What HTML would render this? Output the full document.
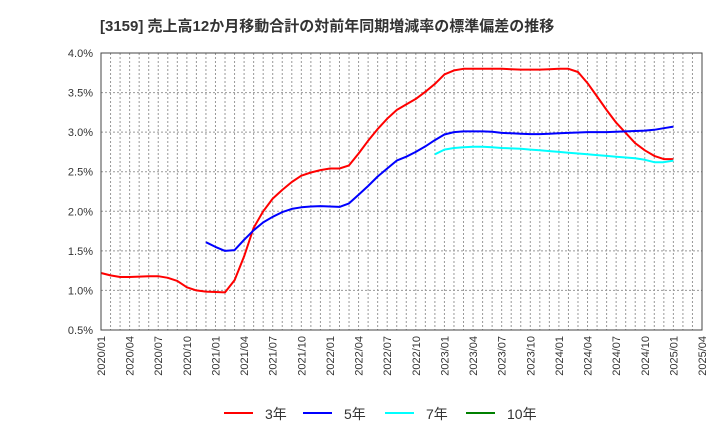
<!DOCTYPE html>
<html><head><meta charset="utf-8"><style>
body{margin:0;background:#fff;}
svg text{font-family:"Liberation Sans","Noto Sans CJK JP",sans-serif;fill:#333;}
</style></head><body>
<svg width="720" height="440" xmlns="http://www.w3.org/2000/svg">
<text x="100" y="31" font-size="15" font-weight="bold">[3159]  売上高12か月移動合計の対前年同期増減率の標準偏差の推移</text>
<g id="grid"></g>
<g id="lines"></g>
<rect x="101" y="53" width="601" height="277" fill="none" stroke="#444" stroke-width="1"/>
<g id="axes"></g>
<g id="legend"></g>
</svg>
<script>
const yTicks=[0.5,1.0,1.5,2.0,2.5,3.0,3.5,4.0];
const xTickLabels=["2020/01","2020/04","2020/07","2020/10","2021/01","2021/04","2021/07","2021/10","2022/01","2022/04","2022/07","2022/10","2023/01","2023/04","2023/07","2023/10","2024/01","2024/04","2024/07","2024/10","2025/01","2025/04"];
const s3Start=0;
const s3=[1.22,1.19,1.17,1.17,1.175,1.18,1.18,1.16,1.12,1.04,1.0,0.985,0.98,0.975,1.13,1.43,1.79,2.0,2.16,2.27,2.37,2.45,2.49,2.52,2.54,2.54,2.58,2.73,2.89,3.04,3.17,3.28,3.35,3.42,3.51,3.61,3.73,3.78,3.80,3.80,3.80,3.80,3.80,3.795,3.79,3.79,3.79,3.795,3.80,3.80,3.76,3.62,3.45,3.28,3.12,2.99,2.86,2.77,2.70,2.66,2.66];
const s5Start=11;
const s5=[1.61,1.55,1.50,1.51,1.64,1.76,1.86,1.93,1.99,2.03,2.05,2.06,2.065,2.06,2.055,2.10,2.21,2.32,2.44,2.54,2.64,2.69,2.75,2.82,2.90,2.97,3.0,3.01,3.01,3.01,3.005,2.99,2.985,2.98,2.975,2.975,2.98,2.985,2.99,2.995,3.0,3.0,3.0,3.005,3.01,3.015,3.02,3.03,3.05,3.07];
const s7Start=35;
const s7=[2.72,2.78,2.80,2.81,2.815,2.815,2.81,2.80,2.795,2.79,2.78,2.77,2.76,2.75,2.74,2.73,2.72,2.71,2.70,2.69,2.68,2.67,2.65,2.62,2.62,2.64];
const s10Start=0;
const s10=[];
const L=101,R=702,T=53,B=330,NM=63;
const X=i=>L+i*(R-L)/NM;
const Y=v=>B-(v-0.5)*(B-T)/3.5;
const NS="http://www.w3.org/2000/svg";
function mk(t,a,p){const e=document.createElementNS(NS,t);for(const k in a)e.setAttribute(k,a[k]);p.appendChild(e);return e;}
const grid=document.getElementById('grid'),axes=document.getElementById('axes'),lines=document.getElementById('lines'),leg=document.getElementById('legend');
for(let i=1;i<NM;i++){const l=mk('line',{x1:X(i),x2:X(i),y1:T,y2:B,stroke:'#999','stroke-dasharray':'2,2','stroke-width':1},grid);

}
yTicks.forEach(v=>{if(v>0.5&&v<4.0){const l=mk('line',{x1:L,x2:R,y1:Y(v),y2:Y(v),stroke:'#999','stroke-dasharray':'2,2','stroke-width':1},grid);

}
const t=mk('text',{x:93,y:Y(v)+4,'text-anchor':'end','font-size':11},axes);t.textContent=v.toFixed(1)+'%';

});
xTickLabels.forEach((s,k)=>{const x=X(k*3);const t=mk('text',{x:0,y:0,'text-anchor':'end','font-size':11,transform:`translate(${x+4},336) rotate(-90)`},axes);t.textContent=s;

});
function series(d,st,c,name){if(!d.length)return;const p=d.map((v,i)=>X(st+i).toFixed(1)+','+Y(v).toFixed(1)).join(' ');
const e=mk('polyline',{points:p,fill:'none',stroke:c,'stroke-width':2,'stroke-linejoin':'round'},lines);

}
series(s3,s3Start,'#ff0000','series-3y');
series(s5,s5Start,'#0000ff','series-5y');
series(s7,s7Start,'#00ffff','series-7y');
series(s10,s10Start,'#008000','series-10y');
[[224,'#ff0000','3年'],[303,'#0000ff','5年'],[385,'#00ffff','7年'],[466,'#008000','10年']].forEach(([x,c,s])=>{
const g=mk('g',{},leg);


mk('line',{x1:x,x2:x+29,y1:413,y2:413,stroke:c,'stroke-width':2},g);
const t=mk('text',{x:x+41,y:419,'font-size':14},g);t.textContent=s;});
</script>
</body></html>
